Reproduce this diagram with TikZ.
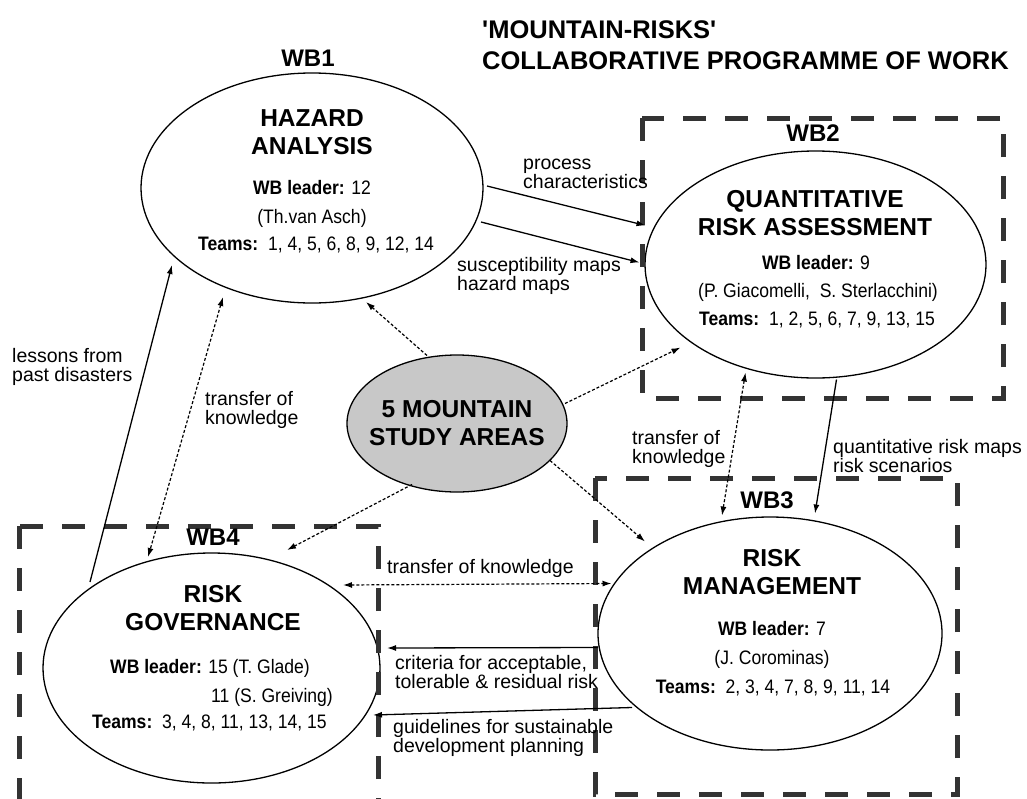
\documentclass[tikz,border=0pt]{standalone}
\usepackage{fontspec}
\setmainfont{Liberation Sans}[Ligatures=TeXOff]
\newfontfamily\infofont{Liberation Sans}[FakeStretch=0.9]
\usetikzlibrary{arrows.meta,shapes.geometric,calc}
\definecolor{boxgray}{RGB}{51,51,51}
\definecolor{areagray}{RGB}{200,200,200}

\begin{document}
\begin{tikzpicture}[x=1pt,y=-1pt,
  wbellipse/.style={draw, ellipse, line width=1.3pt, inner sep=0pt},
  wbbox/.style={draw=boxgray, line width=5pt, dash pattern=on 23pt off 19pt},
  bigtitle/.style={font=\fontsize{25.5}{31}\selectfont\bfseries, inner sep=0pt, anchor=west},
  wblabel/.style={font=\fontsize{24}{28}\selectfont\bfseries, inner sep=0pt},
  head/.style={font=\fontsize{24.5}{28}\selectfont\bfseries, align=center, inner sep=0pt},
  info/.style={font=\infofont\fontsize{19.5}{22}\selectfont, inner sep=0pt},
  lbl/.style={font=\fontsize{19.5}{19}\selectfont, align=left, inner sep=0pt, anchor=west},
  flow/.style={line width=1.3pt, -{Latex[length=9pt,width=6pt]}},
  share/.style={line width=1.2pt, dash pattern=on 3pt off 2pt, -{Latex[length=9pt,width=6pt]}},
  shareboth/.style={share, {Latex[length=9pt,width=6pt]}-{Latex[length=9pt,width=6pt]}}
]
\clip (0,0) rectangle (1027,798);
\fill[white] (0,0) rectangle (1027,798);

% programme title
\node[bigtitle] (ttl1) at (482,30) {'MOUNTAIN-RISKS'};
\node[bigtitle] (ttl2) at (482,61) {COLLABORATIVE PROGRAMME OF WORK};

% work blocks
\node[wbellipse, minimum width=342pt, minimum height=230pt] (wb1) at (312,188) {};
\node[wbellipse, minimum width=341pt, minimum height=227pt] (wb2) at (815.5,264.5) {};
\node[wbellipse, minimum width=344pt, minimum height=233pt] (wb3) at (770,633.5) {};
\node[wbellipse, minimum width=337pt, minimum height=230pt] (wb4) at (211.5,668) {};
\node[wbellipse, fill=areagray, minimum width=220pt, minimum height=137pt] (areas) at (457,423.5) {};

% dashed frames of WB2, WB3 and WB4
\draw[wbbox] (642,118) rectangle (1003,398);
\draw[wbbox] (595,478) rectangle (957,794);
\draw[wbbox] (19,526) rectangle (378,830);

% WB1
\node[wblabel] (wb1t) at (308,58) {WB1};
\node[head] (wb1h) at (312,132.5) {HAZARD\\ANALYSIS};
\node[info] (wb1a) at (312,188) {\textbf{WB leader:} 12};
\node[info] (wb1b) at (312,218) {(Th.van Asch)};
\node[info] (wb1c) at (316,245) {\textbf{Teams:}\ \ 1, 4, 5, 6, 8, 9, 12, 14};

% WB2
\node[wblabel] (wb2t) at (813,133) {WB2};
\node[head] (wb2h) at (815,213.5) {QUANTITATIVE\\RISK ASSESSMENT};
\node[info] (wb2a) at (816,263) {\textbf{WB leader:} 9};
\node[info] (wb2b) at (818,292) {(P. Giacomelli,\ \ S. Sterlacchini)};
\node[info] (wb2c) at (817,320) {\textbf{Teams:}\ \ 1, 2, 5, 6, 7, 9, 13, 15};

% WB3
\node[wblabel] (wb3t) at (767,500) {WB3};
\node[head] (wb3h) at (772,572.5) {RISK\\MANAGEMENT};
\node[info] (wb3a) at (772,629) {\textbf{WB leader:} 7};
\node[info] (wb3b) at (772,659) {(J. Corominas)};
\node[info] (wb3c) at (773,688) {\textbf{Teams:}\ \ 2, 3, 4, 7, 8, 9, 11, 14};

% WB4
\node[wblabel] (wb4t) at (213,537) {WB4};
\node[head] (wb4h) at (213,608.5) {RISK\\GOVERNANCE};
\node[info, anchor=west] (wb4a) at (110,668) {\textbf{WB leader:} 15 (T. Glade)};
\node[info, anchor=west] (wb4b) at (211,697) {11 (S. Greiving)};
\node[info, anchor=west] (wb4c) at (92,723) {\textbf{Teams:}\ \ 3, 4, 8, 11, 13, 14, 15};

% study areas
\node[head] (areast) at (457,423.5) {5 MOUNTAIN\\STUDY AREAS};

% flows between work blocks
\draw[flow] ($(wb1.center)+(175,-2)$) -- ($(wb2.center)+(-170,-39)$);
\draw[flow] ($(wb1.center)+(169,34)$) -- ($(wb2.center)+(-176,-2)$);
\draw[flow] ($(wb2.center)+(21,115)$) -- ($(wb3.center)+(45,-120)$);
\draw[flow] ($(wb4.center)+(-121.5,-86)$) -- ($(wb1.center)+(-140,77)$);
\draw[flow] ($(wb3.center)+(-172,14)$) -- ($(wb4.center)+(175.5,-20)$);
\draw[flow] ($(wb3.center)+(-138,74)$) -- ($(wb4.center)+(161.5,47)$);

% knowledge exchange
\draw[shareboth] ($(wb1.center)+(-89,109)$) -- ($(wb4.center)+(-63.5,-111)$);
\draw[shareboth] ($(wb2.center)+(-70,108)$) -- ($(wb3.center)+(-48,-118)$);
\draw[shareboth] ($(wb4.center)+(131.5,-83)$) -- ($(wb3.center)+(-158.5,-50)$);

% study areas feed every work block
\draw[share] ($(areas.center)+(-30,-68)$) -- ($(wb1.center)+(54,114)$);
\draw[share] ($(areas.center)+(108,-20)$) -- ($(wb2.center)+(-135,83)$);
\draw[share] ($(areas.center)+(93,37)$) -- ($(wb3.center)+(-125,-92)$);
\draw[share] ($(areas.center)+(-45,61)$) -- ($(wb4.center)+(75.5,-118)$);

% connector labels
\node[lbl] (l1) at (523,174) {process\\characteristics};
\node[lbl] (l2) at (457,276) {susceptibility maps\\hazard maps};
\node[lbl] (l3) at (12,367) {lessons from\\past disasters};
\node[lbl] (l4) at (205,410) {transfer of\\knowledge};
\node[lbl] (l5) at (632,449) {transfer of\\knowledge};
\node[lbl] (l6) at (833,456) {quantitative risk maps\\risk scenarios};
\node[lbl] (l7) at (387,568) {transfer of knowledge};
\node[lbl] (l8) at (395,672.5) {criteria for acceptable,\\tolerable \& residual risk};
\node[lbl] (l9) at (393,738) {guidelines for sustainable\\development planning};
\end{tikzpicture}
\end{document}
